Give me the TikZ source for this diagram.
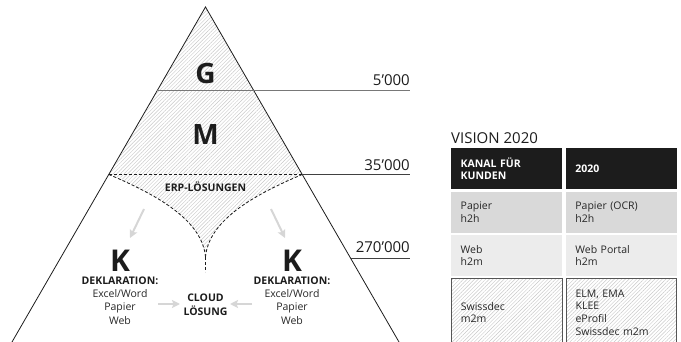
\documentclass[tikz,border=0pt]{standalone}
\usepackage{fontspec}
\setmainfont{Open Sans}
\usepackage{tikz}
\usetikzlibrary{arrows.meta, calc, patterns.meta, positioning}
\definecolor{InkBlack}{RGB}{28,28,28}
\definecolor{TextGray}{RGB}{38,38,38}
\definecolor{LevelGray}{RGB}{120,120,120}
\definecolor{LevelDark}{RGB}{65,65,65}
\definecolor{ArrowGray}{RGB}{214,214,214}
\definecolor{HatchGray}{RGB}{200,200,200}
\definecolor{RowGray}{RGB}{217,217,217}
\definecolor{RowLight}{RGB}{236,236,236}
\definecolor{BorderGray}{RGB}{85,85,85}

\newcommand{\pyrfont}{\fontsize{28}{28}\selectfont\bfseries}
\newcommand{\lblfont}{\fontsize{10.5}{13.3}\selectfont}
\newcommand{\valfont}{\fontsize{15}{15}\selectfont}
\newcommand{\tblfont}{\fontsize{10.5}{12.6}\selectfont}

\begin{document}
\begin{tikzpicture}[
  x=1pt, y=-1pt,
  hatch/.style={pattern={Lines[angle=45, distance=2.6pt, line width=0.45pt]},
                pattern color=HatchGray},
  pyr/.style={draw=InkBlack, line width=0.8pt},
  erpline/.style={draw=InkBlack, line width=0.8pt, dash pattern=on 3pt off 2pt},
  lvlA/.style={draw=LevelGray, line width=1.4pt},
  lvlB/.style={draw=LevelDark, line width=0.9pt},
  val/.style={font=\valfont, text=InkBlack, inner sep=0pt, anchor=base east},
  big/.style={font=\pyrfont, text=InkBlack, inner sep=0pt, anchor=base},
  lab/.style={font=\lblfont\bfseries, text=InkBlack, inner sep=0pt, align=center},
  decl/.style={font=\lblfont, text=TextGray, inner sep=0pt, align=center, anchor=north},
  garrow/.style={-{Stealth[length=8pt, width=8pt, inset=1.5pt]}, line width=2pt, ArrowGray},
  cell/.style={anchor=north west, minimum width=110.7pt, text width=91.7pt,
               inner xsep=9.5pt, inner ysep=0pt, align=left, font=\tblfont,
               text=TextGray, minimum height=40.7pt},
  head/.style={cell, fill=InkBlack, text=white, font=\tblfont\bfseries},
  hcell/.style={cell, hatch, draw=BorderGray, line width=0.8pt, minimum height=67pt},
]
\useasboundingbox (0,0) rectangle (681,342);

% Pyramid frame
\coordinate (top) at (205.5,7);
\coordinate (bl) at (12,342);
\coordinate (br) at (399,342);
\coordinate (rim) at (410,0);
\coordinate (gl) at ($(top)!0.25!(bl)$);
\coordinate (ml) at ($(top)!0.5!(bl)$);
\coordinate (mr) at ($(top)!0.5!(br)$);
\coordinate (kr) at ($(top)!0.75!(br)$);
\coordinate (cusp) at (205.5,257);
\coordinate (cuspend) at (205.5,272);

% Hatched part (G, M, ERP)
\fill[hatch] (top) -- (ml)
  .. controls ($(ml)+(60,25)$) and ($(cusp)+(-3,-32)$) .. (cusp)
  .. controls ($(cusp)+(3,-32)$) and ($(mr)+(-60,25)$) .. (mr) -- cycle;

\draw[erpline] (ml) -- (mr);
\draw[erpline] (ml) .. controls ($(ml)+(60,25)$) and ($(cusp)+(-3,-32)$) .. (cusp);
\draw[erpline] (mr) .. controls ($(mr)+(-60,25)$) and ($(cusp)+(3,-32)$) .. (cusp);
\draw[erpline] (cusp) -- (cuspend);

\draw[pyr] (bl) -- (top) -- (br);

% Levels
\draw[lvlA] (gl) -- (gl -| rim);
\draw[lvlB] (mr) -- (mr -| rim);
\draw[lvlB] (kr) -- (kr -| rim);

\node[val] (v1) at ([yshift=5pt]gl -| rim) {5’000};
\node[val] (v2) at ([yshift=4pt]mr -| rim) {35’000};
\node[val] (v3) at ([yshift=5.5pt]kr -| rim) {270’000};

% Letters
\node[big] (g) at (205.5,84) {G};
\node[big] (m) at (205.5,145) {M};
\node[big, font=\fontsize{30}{30}\selectfont\bfseries] (kl) at (120,272) {K};
\node[big, font=\fontsize{30}{30}\selectfont\bfseries] (kr2) at (292,272) {K};

\node[lab, anchor=base] (erp) at (205.5,192) {ERP-LÖSUNGEN};

\node[decl] (dl) at (120,276.5) {\textbf{\color{InkBlack}DEKLARATION:}\\Excel/Word\\Papier\\Web};
\node[decl] (dr) at (292,276.5) {\textbf{\color{InkBlack}DEKLARATION:}\\Excel/Word\\Papier\\Web};
\node[lab, anchor=north] (cloud) at (205.5,294) {CLOUD\\LÖSUNG};

% Arrows
\coordinate (a1s) at (144,209);
\coordinate (a1e) at (130,238);
\coordinate (a2s) at (271,209);
\coordinate (a2e) at (285,238);
\coordinate (a3s) at (158,304);
\coordinate (a3e) at (180,304);
\coordinate (a4s) at (252,304);
\coordinate (a4e) at (230,304);
\draw[garrow] (a1s) -- (a1e);
\draw[garrow] (a2s) -- (a2e);
\draw[garrow] (a3s) -- (a3e);
\draw[garrow] (a4s) -- (a4e);

% Table
\node[font=\valfont, text=InkBlack, inner sep=0pt, anchor=base west] (vis) at (451,143.3) {VISION 2020};

\node[head] (h1) at (451,148.3) {KANAL FÜR\\KUNDEN};
\node[head] (h2) at ([xshift=3.6pt]h1.north east) {2020};

\node[cell, fill=RowGray] (p1) at ([yshift=-2.3pt]h1.south west) {Papier\\h2h};
\node[cell, fill=RowGray] (p2) at ([yshift=-2.3pt]h2.south west) {Papier (OCR)\\h2h};

\node[cell, fill=RowLight] (w1) at ([yshift=-2.3pt]p1.south west) {Web\\h2m};
\node[cell, fill=RowLight] (w2) at ([yshift=-2.3pt]p2.south west) {Web Portal\\h2m};

\node[hcell] (s1) at ([yshift=-2.3pt]w1.south west) {Swissdec\\m2m};
\node[hcell] (s2) at ([yshift=-2.3pt]w2.south west) {ELM, EMA\\KLEE\\eProfil\\Swissdec m2m};

\end{tikzpicture}
\end{document}
